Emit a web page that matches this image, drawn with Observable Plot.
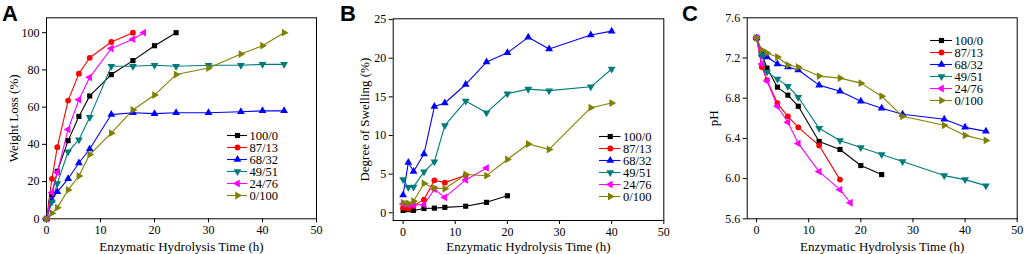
<!DOCTYPE html>
<html>
<head>
<meta charset="utf-8">
<script src="https://cdn.jsdelivr.net/npm/d3@7"></script>
<script src="https://cdn.jsdelivr.net/npm/@observablehq/plot@0.6"></script>
<style>
  html, body { margin: 0; padding: 0; background: #fff; }
  #root { position: relative; width: 1024px; height: 254px; overflow: hidden; background: #fff; }
  .pane { position: absolute; top: 0; }
  .legend { position: absolute; }
  .letter { position: absolute; font-family: "Liberation Sans", Arial, sans-serif; font-weight: bold; font-size: 22px; line-height: 1; color: #000; }
</style>
</head>
<body>
<div id="root"></div>
<script>
// ---------- series ----------
const seriesNames = ["100/0", "87/13", "68/32", "49/51", "24/76", "0/100"];

// ---------- Panel A: Weight loss (%) ----------
const timeA_100_0 = [0, 1, 2, 4, 6, 8, 12, 16, 20, 24];
const lossA_100_0 = [0, 13, 25.5, 42, 55, 66, 77.5, 85, 93, 100];
const timeA_87_13 = [0, 1, 2, 4, 6, 8, 12, 16];
const lossA_87_13 = [0, 21.5, 38.5, 63.5, 78, 86.5, 95, 100];
const timeA_68_32 = [0, 1, 2, 4, 6, 8, 12, 16, 20, 24, 30, 36, 40, 44];
const lossA_68_32 = [0, 10, 14.5, 21.5, 30, 37.5, 56, 57, 56.5, 57, 57, 57.5, 58, 58];
const timeA_49_51 = [0, 1, 2, 4, 6, 8, 12, 16, 20, 24, 30, 36, 40, 44];
const lossA_49_51 = [0, 9, 19, 36, 42.5, 54.5, 82, 82, 82.5, 82, 82.5, 82.5, 83, 83];
const timeA_24_76 = [0, 1, 2, 4, 6, 8, 12, 16, 18];
const lossA_24_76 = [0, 14, 25, 48, 64, 76, 91.5, 96.5, 100];
const timeA_0_100 = [0, 1, 2, 4, 6, 8, 12, 16, 20, 24, 30, 36, 40, 44];
const lossA_0_100 = [0, 3, 6, 15.5, 23, 34.5, 46, 58.5, 66.5, 77.5, 81, 88.5, 93, 100];

// ---------- Panel B: Degree of swelling (%) ----------
const timeB_100_0 = [0, 1, 2, 4, 6, 8, 12, 16, 20];
const swellB_100_0 = [0.3, 0.4, 0.3, 0.55, 0.6, 0.7, 0.85, 1.35, 2.2];
const timeB_87_13 = [0, 1, 2, 4, 6, 8, 12];
const swellB_87_13 = [0.65, 0.55, 0.9, 1.7, 4.2, 3.9, 4.85];
const timeB_68_32 = [0, 1, 2, 4, 6, 8, 12, 16, 20, 24, 28, 36, 40];
const swellB_68_32 = [2.3, 6.5, 5.35, 7.6, 13.75, 14.2, 16.6, 19.5, 20.7, 22.7, 21.2, 23.0, 23.5];
const timeB_49_51 = [0, 1, 2, 4, 6, 8, 12, 16, 20, 24, 28, 36, 40];
const swellB_49_51 = [4.3, 3.3, 3.35, 5.3, 6.6, 11.3, 14.45, 12.95, 15.4, 16.0, 15.8, 16.3, 18.6];
const timeB_24_76 = [0, 1, 2, 4, 6, 8, 12, 16];
const swellB_24_76 = [1.15, 1.0, 1.0, 1.05, 3.05, 2.0, 4.25, 5.8];
const timeB_0_100 = [0, 1, 2, 4, 6, 8, 12, 16, 20, 24, 28, 36, 40];
const swellB_0_100 = [1.3, 1.2, 1.5, 3.8, 3.2, 3.1, 4.95, 4.8, 6.9, 8.9, 8.2, 13.6, 14.2];

// ---------- Panel C: pH ----------
const timeC_100_0 = [0, 1, 2, 4, 6, 8, 12, 16, 20, 24];
const phC_100_0 = [7.4, 7.24, 7.1, 6.91, 6.83, 6.72, 6.37, 6.29, 6.13, 6.04];
const timeC_87_13 = [0, 1, 2, 4, 6, 8, 12, 16];
const phC_87_13 = [7.4, 7.11, 6.98, 6.75, 6.62, 6.51, 6.33, 5.99];
const timeC_68_32 = [0, 1, 2, 4, 6, 8, 12, 16, 20, 24, 28, 36, 40, 44];
const phC_68_32 = [7.4, 7.24, 7.21, 7.14, 7.11, 7.08, 6.93, 6.87, 6.77, 6.70, 6.64, 6.59, 6.51, 6.47];
const timeC_49_51 = [0, 1, 2, 4, 6, 8, 12, 16, 20, 24, 28, 36, 40, 44];
const phC_49_51 = [7.4, 7.23, 7.06, 6.99, 6.92, 6.81, 6.50, 6.38, 6.31, 6.24, 6.17, 6.03, 5.99, 5.93];
const timeC_24_76 = [0, 1, 2, 4, 6, 8, 12, 16, 18];
const phC_24_76 = [7.4, 7.14, 6.97, 6.72, 6.56, 6.35, 6.07, 5.89, 5.76];
const timeC_0_100 = [0, 1, 2, 4, 6, 8, 12, 16, 20, 24, 28, 36, 40, 44];
const phC_0_100 = [7.4, 7.28, 7.25, 7.21, 7.13, 7.11, 7.02, 7.00, 6.95, 6.82, 6.62, 6.53, 6.43, 6.38];

// ---------- tick labels ----------
const xTicks = [0, 10, 20, 30, 40, 50];
const yTicksA = [0, 20, 40, 60, 80, 100];
const yTicksB = [0, 5, 10, 15, 20, 25];
const yTicksC = [5.6, 6.0, 6.4, 6.8, 7.2, 7.6];

// ---------- styles (not data) ----------
const colors = ["#000000", "#ff0000", "#0000ff", "#007b7b", "#ff00ff", "#808000"];
function tri(dir) {
  return {
    draw(ctx, size) {
      const y = -Math.sqrt(size / (Math.sqrt(3) * 3));
      let pts = [[0, 2 * y], [-Math.sqrt(3) * y, -y], [Math.sqrt(3) * y, -y]];
      if (dir === "down") pts = pts.map(([a, b]) => [a, -b]);
      if (dir === "left") pts = pts.map(([a, b]) => [b, a]);
      if (dir === "right") pts = pts.map(([a, b]) => [-b, a]);
      ctx.moveTo(pts[0][0], pts[0][1]);
      ctx.lineTo(pts[1][0], pts[1][1]);
      ctx.lineTo(pts[2][0], pts[2][1]);
      ctx.closePath();
    }
  };
}
const symbols = ["square", "circle", "triangle", tri("down"), tri("left"), tri("right")];
const serif = "Liberation Serif";

function zip(t, v) { return t.map((x, i) => ({x, y: v[i]})); }

const panelA = [zip(timeA_100_0, lossA_100_0), zip(timeA_87_13, lossA_87_13), zip(timeA_68_32, lossA_68_32),
                zip(timeA_49_51, lossA_49_51), zip(timeA_24_76, lossA_24_76), zip(timeA_0_100, lossA_0_100)];
const panelB = [zip(timeB_100_0, swellB_100_0), zip(timeB_87_13, swellB_87_13), zip(timeB_68_32, swellB_68_32),
                zip(timeB_49_51, swellB_49_51), zip(timeB_24_76, swellB_24_76), zip(timeB_0_100, swellB_0_100)];
const panelC = [zip(timeC_100_0, phC_100_0), zip(timeC_87_13, phC_87_13), zip(timeC_68_32, phC_68_32),
                zip(timeC_49_51, phC_49_51), zip(timeC_24_76, phC_24_76), zip(timeC_0_100, phC_0_100)];

const root = document.getElementById("root");

function panel(cfg) {
  const marks = [Plot.frame({stroke: "#000", strokeWidth: 1})];
  cfg.data.forEach((d, i) => {
    marks.push(Plot.line(d, {x: "x", y: "y", stroke: colors[i], strokeWidth: 1.1}));
  });
  cfg.data.forEach((d, i) => {
    marks.push(Plot.dot(d, {x: "x", y: "y", symbol: symbols[i], fill: colors[i], stroke: "none", r: 2.9}));
  });
  marks.push(Plot.text([cfg.ylabel], {frameAnchor: "left", rotate: -90, dx: -cfg.ylabelOff, textAnchor: "middle", lineAnchor: "middle", fontSize: 13, fontFamily: serif}));
  marks.push(Plot.text(["Enzymatic Hydrolysis Time (h)"], {frameAnchor: "bottom", dy: cfg.xlabelOff, textAnchor: "middle", lineAnchor: "middle", fontSize: 13, fontFamily: serif}));
  const svg = Plot.plot({
    width: cfg.width, height: 254,
    marginLeft: cfg.ml, marginRight: cfg.mr, marginTop: cfg.mt, marginBottom: cfg.mb,
    style: {fontFamily: serif, fontSize: "12px", color: "#000", background: "transparent", overflow: "visible"},
    x: {domain: cfg.xdom, ticks: xTicks, tickSize: 4, tickPadding: 3, label: null},
    y: {domain: cfg.ydom, ticks: cfg.yticks, tickSize: 4, tickPadding: 3, label: null, tickFormat: cfg.yfmt},
    marks
  });
  const wrap = document.createElement("div");
  wrap.className = "pane";
  wrap.style.left = cfg.left + "px";
  wrap.appendChild(svg);
  root.appendChild(wrap);

  // legend
  const lg = [];
  seriesNames.forEach((s, i) => {
    lg.push(Plot.ruleY([s], {y: d => d, x1: 0, x2: 1, stroke: colors[i], strokeWidth: 1.1}));
    lg.push(Plot.dot([s], {x: 0.5, y: d => d, symbol: symbols[i], fill: colors[i], stroke: "none", r: 2.9}));
  });
  lg.push(Plot.text(seriesNames, {x: 1, y: d => d, text: d => d, dx: 2, textAnchor: "start", fontSize: 12.5, fontFamily: serif}));
  const lsvg = Plot.plot({
    width: 90, height: 96, margin: 0,
    style: {fontFamily: serif, background: "transparent", color: "#000", overflow: "visible"},
    x: {domain: [0, 1], range: [0, cfg.legLine], axis: null},
    y: {type: "point", domain: seriesNames, range: [8, 8 + 5 * cfg.legStep], axis: null},
    marks: lg
  });
  const lw = document.createElement("div");
  lw.className = "legend";
  lw.style.left = cfg.legX + "px";
  lw.style.top = (cfg.legY - 8) + "px";
  lw.appendChild(lsvg);
  root.appendChild(lw);

  const L = document.createElement("div");
  L.className = "letter";
  L.textContent = cfg.letter;
  L.style.left = cfg.letterX + "px";
  L.style.top = "3px";
  root.appendChild(L);
}

panel({letter: "A", letterX: 2, left: 0, width: 340, ml: 46, mr: 24, mt: 17.3, mb: 35.7,
       xdom: [0, 50], ydom: [0, 108], yticks: yTicksA, data: panelA,
       ylabel: "Weight Loss (%)", ylabelOff: 33, xlabelOff: 28.5,
       legX: 227, legY: 128.3, legLine: 20, legStep: 14.9});
panel({letter: "B", letterX: 340, left: 340, width: 340, ml: 52.7, mr: 16.7, mt: 18.3, mb: 34,
       xdom: [-1.9, 50], ydom: [-1.0, 25.1], yticks: yTicksB, data: panelB,
       ylabel: "Degree of Swelling (%)", ylabelOff: 28, xlabelOff: 26.8,
       legX: 598.5, legY: 128.3, legLine: 21.5, legStep: 15.1});
panel({letter: "C", letterX: 682, left: 680, width: 344, ml: 66.7, mr: 7.3, mt: 17.3, mb: 35.7,
       xdom: [-1.8, 50], ydom: [5.6, 7.6], yticks: yTicksC, data: panelC, yfmt: d3.format(".1f"),
       ylabel: "pH", ylabelOff: 33, xlabelOff: 28.5,
       legX: 929.5, legY: 32.3, legLine: 22, legStep: 15});
</script>
</body>
</html>
